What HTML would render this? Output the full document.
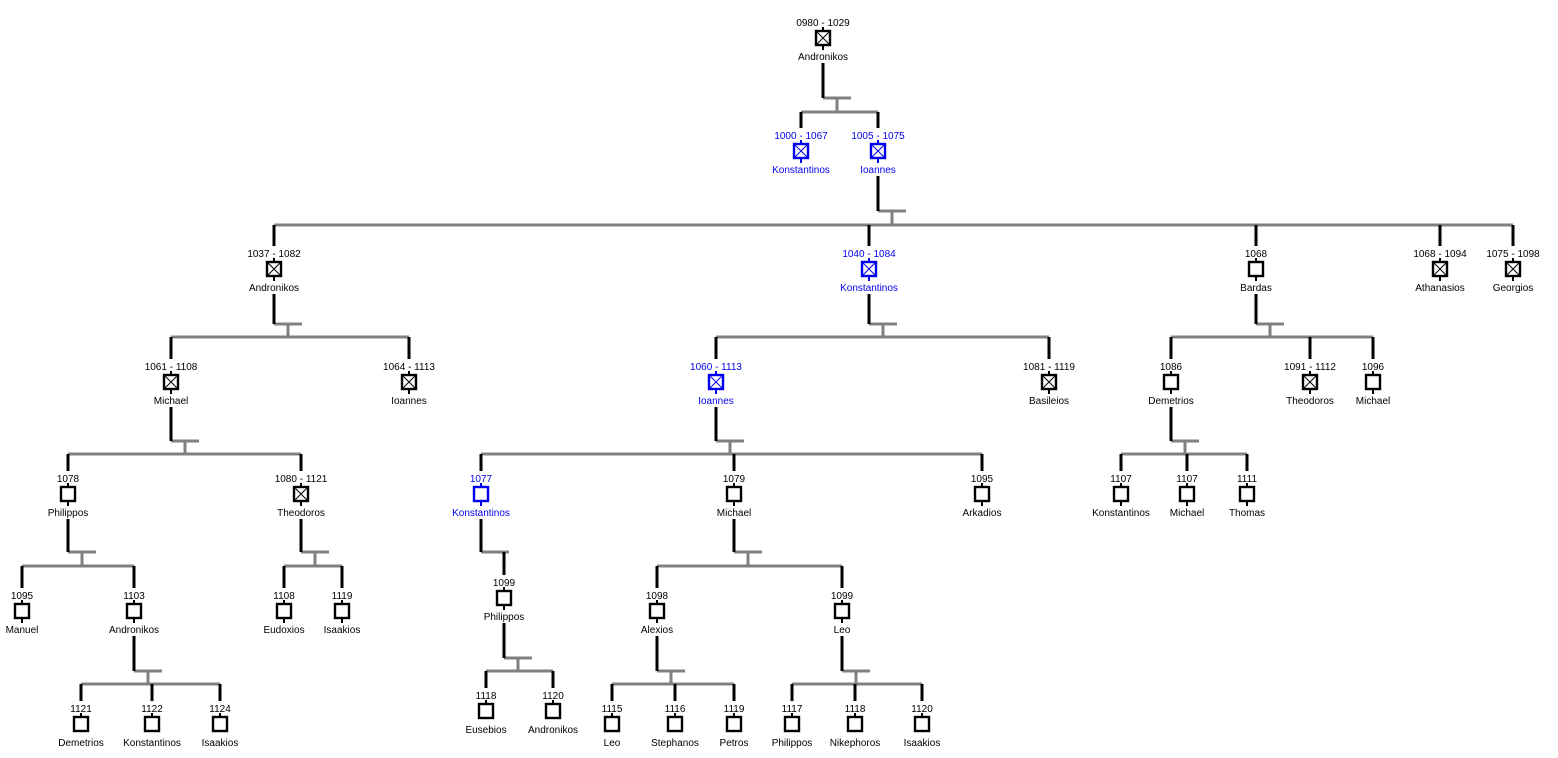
<!DOCTYPE html>
<html><head><meta charset="utf-8"><style>
html,body{margin:0;padding:0;background:#fff;}
svg{display:block;}
text{font-family:"Liberation Sans",sans-serif;font-size:10px;text-anchor:middle;fill:#000;}
.n path{stroke:#000;stroke-width:2;fill:none;}
.n rect{stroke:#000;stroke-width:2.4;fill:#fff;}
.n path.x{stroke-width:1;}
.b text{fill:#0000ee;}
.b path,.b rect{stroke:#0000ee;}
.g{stroke:#808080;stroke-width:3;fill:none;}
.k{stroke:#000;stroke-width:3;fill:none;}
</style></head><body>
<svg width="1558" height="758" viewBox="0 0 1558 758" xmlns="http://www.w3.org/2000/svg">
<!-- gray connectors -->
<path class="g" d="
M823,98H851M837,98V112M801,112H878
M878,211H906M892,211V225M274,225H1513
M274,324H302M288,324V337M171,337H409
M869,324H897M883,324V337M716,337H1049
M1256,324H1284M1270,324V337M1171,337H1373
M171,441H199M185,441V454M68,454H301
M716,441H744M730,441V454M481,454H982
M1171,441H1199M1185,441V454M1121,454H1247
M68,552H96M82,552V566M22,566H134
M301,552H329M315,552V566M284,566H342
M481,552H509
M734,552H762M748,552V566M657,566H842
M134,671H162M148,671V684M81,684H220
M657,671H685M671,671V684M612,684H734
M842,671H870M856,671V684M792,684H922
M504,658H532M518,658V671M486,671H553"/>
<!-- black connectors -->
<path class="k" d="
M823,63V98M801,112V128M878,112V128
M878,176V211M274,225V246M869,225V246M1256,225V246M1440,225V246M1513,225V246
M274,294V324M869,294V324M1256,294V324
M171,337V359M409,337V359M716,337V359M1049,337V359M1171,337V359M1310,337V359M1373,337V359
M171,407V441M716,407V441M1171,407V441
M68,454V471M301,454V471M481,454V471M734,454V471M982,454V471M1121,454V471M1187,454V471M1247,454V471
M68,519V552M301,519V552M481,519V552M734,519V552
M22,566V588M134,566V588M284,566V588M342,566V588M504,552V575M657,566V588M842,566V588
M134,636V671M657,636V671M842,636V671M504,623V658
M81,684V701M152,684V701M220,684V701M612,684V701M675,684V701M734,684V701M792,684V701M855,684V701M922,684V701M486,671V688M553,671V688"/>

<!-- nodes -->
<g class="n" transform="translate(823,22)"><text y="4">0980 - 1029</text><path d="M0,5V10M0,23V28"/><rect x="-7" y="9" width="14" height="14"/><path class="x" d="M-6,10L6,22M6,10L-6,22"/><text y="38">Andronikos</text></g>

<g class="n b" transform="translate(801,135)"><text y="4">1000 - 1067</text><path d="M0,5V10M0,23V28"/><rect x="-7" y="9" width="14" height="14"/><path class="x" d="M-6,10L6,22M6,10L-6,22"/><text y="38">Konstantinos</text></g>
<g class="n b" transform="translate(878,135)"><text y="4">1005 - 1075</text><path d="M0,5V10M0,23V28"/><rect x="-7" y="9" width="14" height="14"/><path class="x" d="M-6,10L6,22M6,10L-6,22"/><text y="38">Ioannes</text></g>

<g class="n" transform="translate(274,253)"><text y="4">1037 - 1082</text><path d="M0,5V10M0,23V28"/><rect x="-7" y="9" width="14" height="14"/><path class="x" d="M-6,10L6,22M6,10L-6,22"/><text y="38">Andronikos</text></g>
<g class="n b" transform="translate(869,253)"><text y="4">1040 - 1084</text><path d="M0,5V10M0,23V28"/><rect x="-7" y="9" width="14" height="14"/><path class="x" d="M-6,10L6,22M6,10L-6,22"/><text y="38">Konstantinos</text></g>
<g class="n" transform="translate(1256,253)"><text y="4">1068</text><path d="M0,5V10M0,23V28"/><rect x="-7" y="9" width="14" height="14"/><text y="38">Bardas</text></g>
<g class="n" transform="translate(1440,253)"><text y="4">1068 - 1094</text><path d="M0,5V10M0,23V28"/><rect x="-7" y="9" width="14" height="14"/><path class="x" d="M-6,10L6,22M6,10L-6,22"/><text y="38">Athanasios</text></g>
<g class="n" transform="translate(1513,253)"><text y="4">1075 - 1098</text><path d="M0,5V10M0,23V28"/><rect x="-7" y="9" width="14" height="14"/><path class="x" d="M-6,10L6,22M6,10L-6,22"/><text y="38">Georgios</text></g>

<g class="n" transform="translate(171,366)"><text y="4">1061 - 1108</text><path d="M0,5V10M0,23V28"/><rect x="-7" y="9" width="14" height="14"/><path class="x" d="M-6,10L6,22M6,10L-6,22"/><text y="38">Michael</text></g>
<g class="n" transform="translate(409,366)"><text y="4">1064 - 1113</text><path d="M0,5V10M0,23V28"/><rect x="-7" y="9" width="14" height="14"/><path class="x" d="M-6,10L6,22M6,10L-6,22"/><text y="38">Ioannes</text></g>
<g class="n b" transform="translate(716,366)"><text y="4">1060 - 1113</text><path d="M0,5V10M0,23V28"/><rect x="-7" y="9" width="14" height="14"/><path class="x" d="M-6,10L6,22M6,10L-6,22"/><text y="38">Ioannes</text></g>
<g class="n" transform="translate(1049,366)"><text y="4">1081 - 1119</text><path d="M0,5V10M0,23V28"/><rect x="-7" y="9" width="14" height="14"/><path class="x" d="M-6,10L6,22M6,10L-6,22"/><text y="38">Basileios</text></g>
<g class="n" transform="translate(1171,366)"><text y="4">1086</text><path d="M0,5V10M0,23V28"/><rect x="-7" y="9" width="14" height="14"/><text y="38">Demetrios</text></g>
<g class="n" transform="translate(1310,366)"><text y="4">1091 - 1112</text><path d="M0,5V10M0,23V28"/><rect x="-7" y="9" width="14" height="14"/><path class="x" d="M-6,10L6,22M6,10L-6,22"/><text y="38">Theodoros</text></g>
<g class="n" transform="translate(1373,366)"><text y="4">1096</text><path d="M0,5V10M0,23V28"/><rect x="-7" y="9" width="14" height="14"/><text y="38">Michael</text></g>

<g class="n" transform="translate(68,478)"><text y="4">1078</text><path d="M0,5V10M0,23V28"/><rect x="-7" y="9" width="14" height="14"/><text y="38">Philippos</text></g>
<g class="n" transform="translate(301,478)"><text y="4">1080 - 1121</text><path d="M0,5V10M0,23V28"/><rect x="-7" y="9" width="14" height="14"/><path class="x" d="M-6,10L6,22M6,10L-6,22"/><text y="38">Theodoros</text></g>
<g class="n b" transform="translate(481,478)"><text y="4">1077</text><path d="M0,5V10M0,23V28"/><rect x="-7" y="9" width="14" height="14"/><text y="38">Konstantinos</text></g>
<g class="n" transform="translate(734,478)"><text y="4">1079</text><path d="M0,5V10M0,23V28"/><rect x="-7" y="9" width="14" height="14"/><text y="38">Michael</text></g>
<g class="n" transform="translate(982,478)"><text y="4">1095</text><path d="M0,5V10M0,23V28"/><rect x="-7" y="9" width="14" height="14"/><text y="38">Arkadios</text></g>
<g class="n" transform="translate(1121,478)"><text y="4">1107</text><path d="M0,5V10M0,23V28"/><rect x="-7" y="9" width="14" height="14"/><text y="38">Konstantinos</text></g>
<g class="n" transform="translate(1187,478)"><text y="4">1107</text><path d="M0,5V10M0,23V28"/><rect x="-7" y="9" width="14" height="14"/><text y="38">Michael</text></g>
<g class="n" transform="translate(1247,478)"><text y="4">1111</text><path d="M0,5V10M0,23V28"/><rect x="-7" y="9" width="14" height="14"/><text y="38">Thomas</text></g>

<g class="n" transform="translate(22,595)"><text y="4">1095</text><path d="M0,5V10M0,23V28"/><rect x="-7" y="9" width="14" height="14"/><text y="38">Manuel</text></g>
<g class="n" transform="translate(134,595)"><text y="4">1103</text><path d="M0,5V10M0,23V28"/><rect x="-7" y="9" width="14" height="14"/><text y="38">Andronikos</text></g>
<g class="n" transform="translate(284,595)"><text y="4">1108</text><path d="M0,5V10M0,23V28"/><rect x="-7" y="9" width="14" height="14"/><text y="38">Eudoxios</text></g>
<g class="n" transform="translate(342,595)"><text y="4">1119</text><path d="M0,5V10M0,23V28"/><rect x="-7" y="9" width="14" height="14"/><text y="38">Isaakios</text></g>
<g class="n" transform="translate(504,582)"><text y="4">1099</text><path d="M0,5V10M0,23V28"/><rect x="-7" y="9" width="14" height="14"/><text y="38">Philippos</text></g>
<g class="n" transform="translate(657,595)"><text y="4">1098</text><path d="M0,5V10M0,23V28"/><rect x="-7" y="9" width="14" height="14"/><text y="38">Alexios</text></g>
<g class="n" transform="translate(842,595)"><text y="4">1099</text><path d="M0,5V10M0,23V28"/><rect x="-7" y="9" width="14" height="14"/><text y="38">Leo</text></g>

<g class="n" transform="translate(81,708)"><text y="4">1121</text><path d="M0,5V10"/><rect x="-7" y="9" width="14" height="14"/><text y="38">Demetrios</text></g>
<g class="n" transform="translate(152,708)"><text y="4">1122</text><path d="M0,5V10"/><rect x="-7" y="9" width="14" height="14"/><text y="38">Konstantinos</text></g>
<g class="n" transform="translate(220,708)"><text y="4">1124</text><path d="M0,5V10"/><rect x="-7" y="9" width="14" height="14"/><text y="38">Isaakios</text></g>
<g class="n" transform="translate(486,695)"><text y="4">1118</text><path d="M0,5V10"/><rect x="-7" y="9" width="14" height="14"/><text y="38">Eusebios</text></g>
<g class="n" transform="translate(553,695)"><text y="4">1120</text><path d="M0,5V10"/><rect x="-7" y="9" width="14" height="14"/><text y="38">Andronikos</text></g>
<g class="n" transform="translate(612,708)"><text y="4">1115</text><path d="M0,5V10"/><rect x="-7" y="9" width="14" height="14"/><text y="38">Leo</text></g>
<g class="n" transform="translate(675,708)"><text y="4">1116</text><path d="M0,5V10"/><rect x="-7" y="9" width="14" height="14"/><text y="38">Stephanos</text></g>
<g class="n" transform="translate(734,708)"><text y="4">1119</text><path d="M0,5V10"/><rect x="-7" y="9" width="14" height="14"/><text y="38">Petros</text></g>
<g class="n" transform="translate(792,708)"><text y="4">1117</text><path d="M0,5V10"/><rect x="-7" y="9" width="14" height="14"/><text y="38">Philippos</text></g>
<g class="n" transform="translate(855,708)"><text y="4">1118</text><path d="M0,5V10"/><rect x="-7" y="9" width="14" height="14"/><text y="38">Nikephoros</text></g>
<g class="n" transform="translate(922,708)"><text y="4">1120</text><path d="M0,5V10"/><rect x="-7" y="9" width="14" height="14"/><text y="38">Isaakios</text></g>
</svg>
</body></html>
